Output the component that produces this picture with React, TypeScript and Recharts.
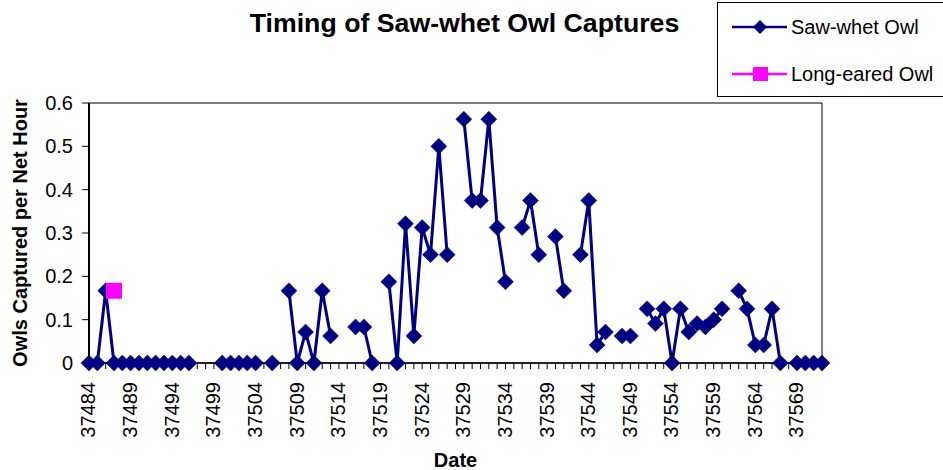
import React from 'react';
import { LineChart, Line, XAxis, YAxis, ReferenceArea } from 'recharts';

// Excel serial dates, one per day
const dates = [
  37484, 37485, 37486, 37487, 37488, 37489, 37490, 37491, 37492, 37493,
  37494, 37495, 37496, 37497, 37498, 37499, 37500, 37501, 37502, 37503,
  37504, 37505, 37506, 37507, 37508, 37509, 37510, 37511, 37512, 37513,
  37514, 37515, 37516, 37517, 37518, 37519, 37520, 37521, 37522, 37523,
  37524, 37525, 37526, 37527, 37528, 37529, 37530, 37531, 37532, 37533,
  37534, 37535, 37536, 37537, 37538, 37539, 37540, 37541, 37542, 37543,
  37544, 37545, 37546, 37547, 37548, 37549, 37550, 37551, 37552, 37553,
  37554, 37555, 37556, 37557, 37558, 37559, 37560, 37561, 37562, 37563,
  37564, 37565, 37566, 37567, 37568, 37569, 37570, 37571, 37572,
];

// owls per net hour, null = no netting that night
const sawWhet: (number | null)[] = [
  0, 0, 0.1667, 0, 0, 0, 0, 0, 0, 0,
  0, 0, 0, null, null, null, 0, 0, 0, 0,
  0, null, 0, null, 0.1667, 0, 0.0714, 0, 0.1667, 0.0625,
  null, null, 0.0833, 0.0833, 0, null, 0.1875, 0, 0.3214, 0.0625,
  0.3125, 0.25, 0.5, 0.25, null, 0.5625, 0.375, 0.375, 0.5625, 0.3125,
  0.1875, null, 0.3125, 0.375, 0.25, null, 0.2917, 0.1667, null, 0.25,
  0.375, 0.0417, 0.0714, null, 0.0625, 0.0625, null, 0.125, 0.0909, 0.125,
  0, 0.125, 0.0714, 0.0909, 0.0833, 0.1, 0.125, null, 0.1667, 0.125,
  0.0417, 0.0417, 0.125, 0, null, 0, 0, 0, 0,
];

const longEaredDates = [37487];
const longEaredValues = [0.1667];

const xLabelDates = [
  37484, 37489, 37494, 37499, 37504, 37509, 37514, 37519, 37524,
  37529, 37534, 37539, 37544, 37549, 37554, 37559, 37564, 37569,
];
const yTicks = [0, 0.1, 0.2, 0.3, 0.4, 0.5, 0.6];

const data = dates.map((d, i) => {
  const j = longEaredDates.indexOf(d);
  return {
    date: d,
    sawWhet: sawWhet[i],
    longEared: j >= 0 ? longEaredValues[j] : null,
  };
});

const FONT = '"Liberation Sans", Arial, sans-serif';
const NAVY = '#000080';
const MAGENTA = '#FF00FF';

const renderDiamond = (props: any) => {
  const { cx, cy, index, value } = props;
  if (cx == null || cy == null || value == null) return <g key={`d-${index}`} />;
  const r = 8;
  return (
    <polygon
      key={`d-${index}`}
      points={`${cx},${cy - r} ${cx + r},${cy} ${cx},${cy + r} ${cx - r},${cy}`}
      fill={NAVY}
      stroke={NAVY}
      strokeWidth={0.5}
    />
  );
};

const renderSquare = (props: any) => {
  const { cx, cy, index, value } = props;
  if (cx == null || cy == null || value == null) return <g key={`s-${index}`} />;
  return <rect key={`s-${index}`} x={cx - 8} y={cy - 8} width={16} height={16} fill={MAGENTA} />;
};

const DateTick = (props: any) => {
  const { x, y, payload } = props;
  if (!xLabelDates.includes(payload.value)) return <g />;
  return (
    <g transform={`translate(${x},${y}) rotate(-90)`}>
      <text x={-11} y={0} dy="0.32em" textAnchor="end" fill="#000" fontSize={20} fontFamily={FONT}>
        {payload.value}
      </text>
    </g>
  );
};

const ChartLegend = () => (
  <svg
    width={240}
    height={95}
    style={{ position: 'absolute', left: 717, top: 2 }}
  >
    <rect x={0.5} y={0.5} width={238} height={94} fill="#fff" stroke="#000" strokeWidth={1} />
    <line x1={15} y1={25} x2={70} y2={25} stroke={NAVY} strokeWidth={2.5} />
    <polygon points="43,18 50,25 43,32 36,25" fill={NAVY} />
    <text x={74} y={25} dy="0.35em" fontSize={20} fontFamily={FONT} fill="#000">Saw-whet Owl</text>
    <line x1={15} y1={72} x2={70} y2={72} stroke={MAGENTA} strokeWidth={2.5} />
    <rect x={36} y={65} width={15} height={14} fill={MAGENTA} />
    <text x={74} y={72} dy="0.35em" fontSize={20} fontFamily={FONT} fill="#000">Long-eared Owl</text>
  </svg>
);

export default function App() {
  return (
    <div
      style={{
        position: 'absolute',
        left: 0,
        top: 0,
        width: 943,
        height: 470,
        overflow: 'hidden',
        background: '#fff',
        fontFamily: FONT,
      }}
    >
      <div
        style={{
          position: 'absolute',
          left: 0,
          top: 10,
          width: 929,
          textAlign: 'center',
          fontSize: 26.7,
          lineHeight: '26px',
          fontWeight: 'bold',
          color: '#000',
        }}
      >
        Timing of Saw-whet Owl Captures
      </div>
      <div style={{ position: 'absolute', left: 0, top: 0 }}>
        <LineChart
          width={943}
          height={470}
          data={data}
          margin={{ top: 103, right: 121, bottom: 0, left: 0 }}
        >
          <ReferenceArea
            x1={37484}
            x2={37572}
            y1={0}
            y2={0.6}
            fill="none"
            stroke="#000"
            strokeWidth={1}
          />
          <XAxis
            dataKey="date"
            type="number"
            domain={[37484, 37572]}
            ticks={dates}
            interval={0}
            height={107}
            tick={<DateTick />}
            tickSize={6}
            tickLine={{ stroke: '#000', strokeWidth: 1 }}
            axisLine={{ stroke: '#000', strokeWidth: 1.5 }}
            label={{
              value: 'Date',
              position: 'insideBottom',
              offset: 3,
              style: { fontSize: 20, fontWeight: 'bold', fill: '#000', fontFamily: FONT },
            }}
          />
          <YAxis
            type="number"
            domain={[0, 0.6]}
            ticks={yTicks}
            width={89}
            tickSize={7}
            tickMargin={9}
            tickFormatter={(v: number) => (v === 0 ? '0' : v.toFixed(1))}
            tick={{ fill: '#000', fontSize: 20, fontFamily: FONT }}
            tickLine={{ stroke: '#000', strokeWidth: 1 }}
            axisLine={{ stroke: '#000', strokeWidth: 2 }}
            label={{
              value: 'Owls Captured per Net Hour',
              angle: -90,
              position: 'insideLeft',
              offset: 20,
              style: { textAnchor: 'middle', fontSize: 20, fontWeight: 'bold', fill: '#000', fontFamily: FONT },
            }}
          />
          <Line
            dataKey="sawWhet"
            stroke={NAVY}
            strokeWidth={3}
            dot={renderDiamond}
            activeDot={false}
            connectNulls={false}
            isAnimationActive={false}
          />
          <Line
            dataKey="longEared"
            stroke={MAGENTA}
            strokeWidth={3}
            dot={renderSquare}
            activeDot={false}
            connectNulls={false}
            isAnimationActive={false}
          />
        </LineChart>
      </div>
      <ChartLegend />
    </div>
  );
}
